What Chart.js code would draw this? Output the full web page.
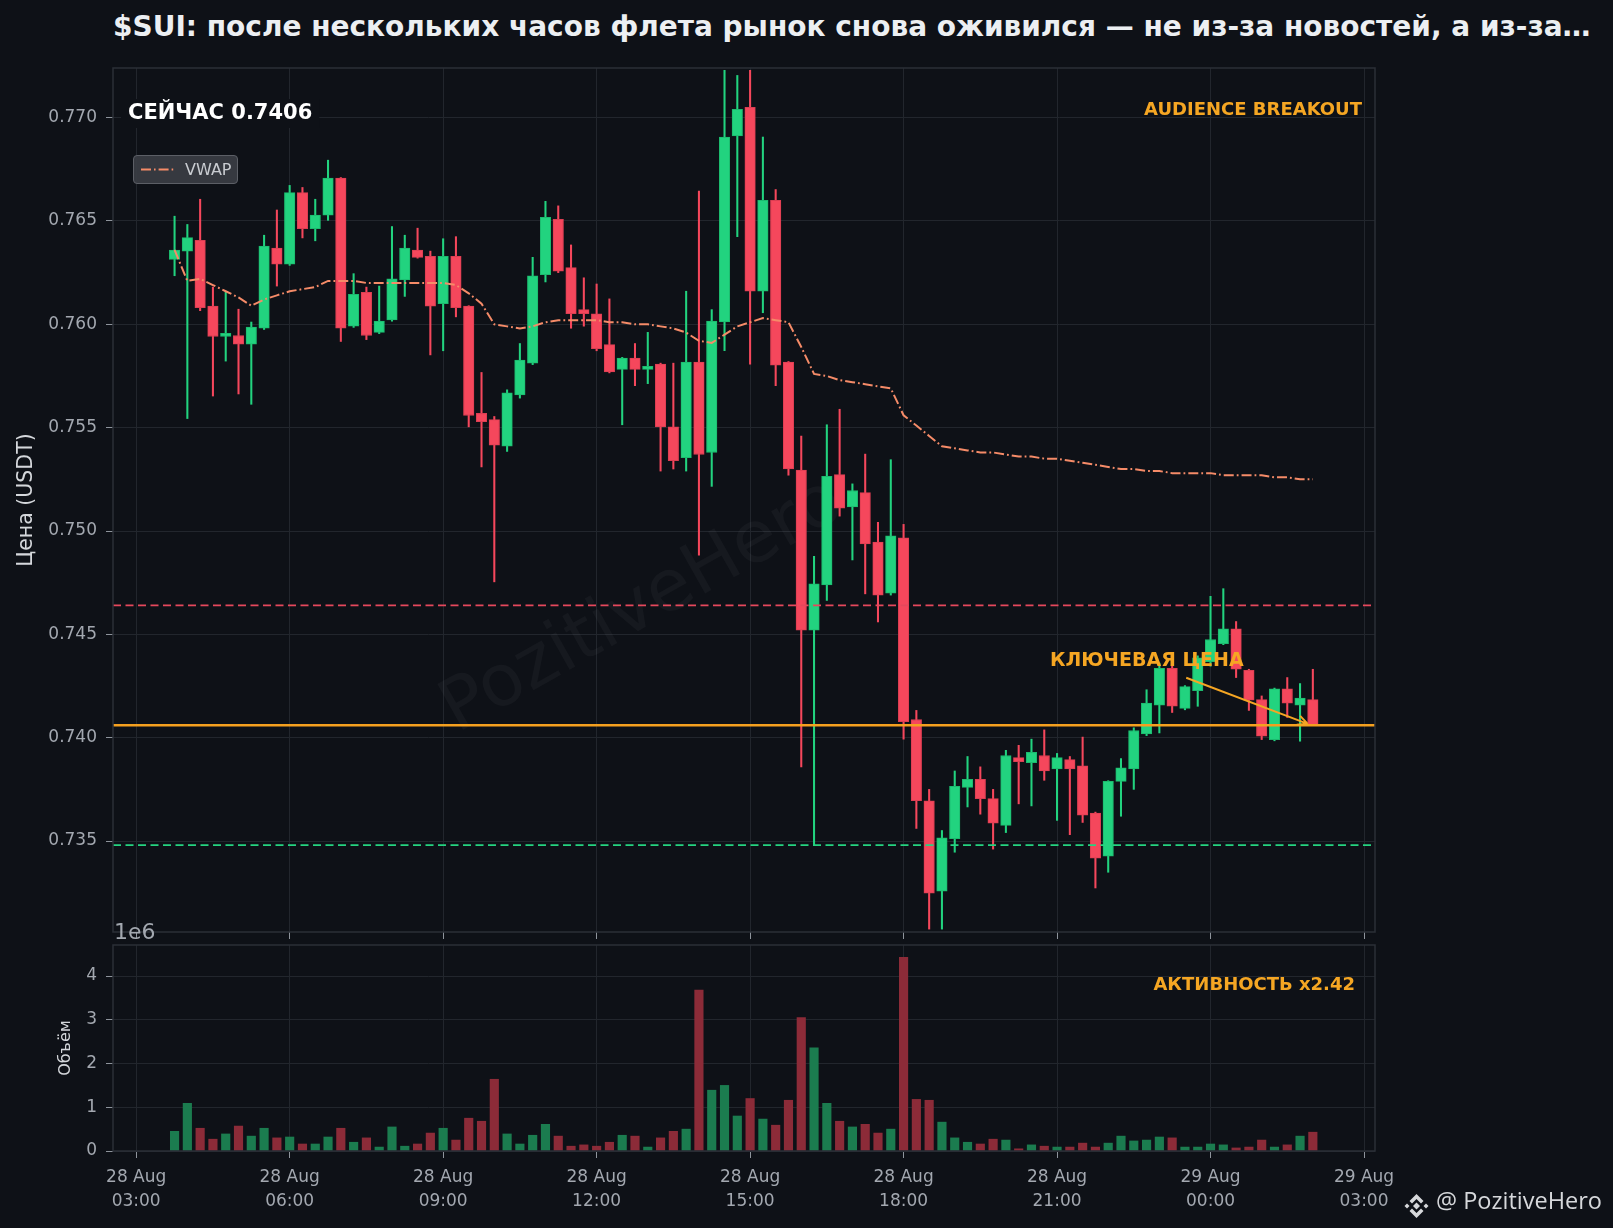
<!DOCTYPE html>
<html>
<head>
<meta charset="utf-8">
<script src="https://cdn.jsdelivr.net/npm/chart.js@4.4.1/dist/chart.umd.min.js"></script>
<style>
  body { margin: 0; background: #0e1117; width: 1613px; height: 1228px; overflow: hidden; position: relative; }
  #title { position: absolute; left: 113px; top: 13px; font: bold 28px 'DejaVu Sans'; line-height: 28px; color: #eceff2; white-space: nowrap; }
  #priceBox { position: absolute; left: 0; top: 0; }
  #volBox { position: absolute; left: 0; top: 900px; }
  #legend { position: absolute; left: 133px; top: 155px; width: 105px; height: 29px; box-sizing: border-box;
            background: rgba(58,61,68,0.92); border: 1px solid #5c5f66; border-radius: 4px; }
  #legend svg { position: absolute; left: 6px; top: 0; }
  #legend span { position: absolute; left: 51px; top: 4px; font: 16px 'DejaVu Sans'; line-height: 20px; color: #c9ccd1; }
  #footer { position: absolute; left: 1403px; top: 1189px; height: 30px; white-space: nowrap; }
  #footer svg { position: absolute; left: 0; top: 4px; }
  #footer span { position: absolute; left: 33px; top: 0; font: 23.5px 'Open Sans'; line-height: 23.5px; color: #d6d8db; }
</style>
</head>
<body>
<div id="title">$SUI: после нескольких часов флета рынок снова оживился — не из-за новостей, а из-за…</div>
<div id="priceBox"><canvas id="price" width="1613" height="962"></canvas></div>
<div id="volBox"><canvas id="vol" width="1613" height="328"></canvas></div>
<div id="legend">
  <svg width="40" height="27"><line x1="1" y1="13.5" x2="34" y2="13.5" stroke="#f58b68" stroke-width="2" stroke-dasharray="10 3 1.6 3"/></svg>
  <span>VWAP</span>
</div>
<div id="footer">
  <svg width="27" height="26" viewBox="0 0 26 26">
    <polygon fill="#d6d8db" points="13,9.5 16.5,13 13,16.5 9.5,13"/>
    <polygon fill="#d6d8db" points="3.5,10.5 6,13 3.5,15.5 1,13"/>
    <polygon fill="#d6d8db" points="22.5,10.5 25,13 22.5,15.5 20,13"/>
    <polygon fill="#d6d8db" points="13,1 20,8 17.5,10.5 13,6 8.5,10.5 6,8"/>
    <polygon fill="#d6d8db" points="13,25 20,18 17.5,15.5 13,20 8.5,15.5 6,18"/>
  </svg>
  <span>@ PozitiveHero</span>
</div>
<script>
// 15-minute candles, first one at 28 Aug 03:45 (x = minutes since 28 Aug 00:00)
const firstSlotMin = 225;
const slotMin = 15;

const opens = [
  0.76314, 0.76354, 0.76406, 0.76088, 0.75941, 0.75946, 0.75904, 0.75981, 0.76369, 0.76291,
  0.76637, 0.76463, 0.76528, 0.76707, 0.75991, 0.76155, 0.75961, 0.76021, 0.76215, 0.76359,
  0.76329, 0.76100, 0.76329, 0.76088, 0.75569, 0.75539, 0.75410, 0.75658, 0.75812, 0.76240,
  0.76508, 0.76274, 0.76071, 0.76051, 0.75902, 0.75782, 0.75837, 0.75782, 0.75807, 0.75504,
  0.75355, 0.75817, 0.75380, 0.76011, 0.76911, 0.77050, 0.76160, 0.76600, 0.75817, 0.75295,
  0.74520, 0.74739, 0.75273, 0.75116, 0.75186, 0.74947, 0.74699, 0.74967, 0.74088, 0.73695,
  0.73258, 0.73511, 0.73760, 0.73799, 0.73705, 0.73576, 0.73904, 0.73879, 0.73914, 0.73849,
  0.73894, 0.73864, 0.73635, 0.73427, 0.73789, 0.73849, 0.74018, 0.74157, 0.74336, 0.74142,
  0.74227, 0.74368, 0.74455, 0.74527, 0.74326, 0.74184, 0.73991, 0.74237, 0.74157, 0.74184
];
const highs = [
  0.76523, 0.76483, 0.76605, 0.76180, 0.76155, 0.76073, 0.76011, 0.76431, 0.76553, 0.76672,
  0.76662, 0.76605, 0.76794, 0.76710, 0.76245, 0.76180, 0.76185, 0.76473, 0.76431, 0.76465,
  0.76354, 0.76414, 0.76424, 0.76090, 0.75767, 0.75554, 0.75683, 0.75907, 0.76324, 0.76595,
  0.76573, 0.76384, 0.76225, 0.76195, 0.76123, 0.75840, 0.75907, 0.75961, 0.75812, 0.75812,
  0.76160, 0.76644, 0.76071, 0.77229, 0.77204, 0.77229, 0.76906, 0.76652, 0.75820, 0.75459,
  0.74878, 0.75514, 0.75589, 0.75228, 0.75372, 0.75042, 0.75345, 0.75032, 0.74132, 0.73750,
  0.73551, 0.73839, 0.73909, 0.73859, 0.73750, 0.73939, 0.73963, 0.73993, 0.74038, 0.73924,
  0.73909, 0.74003, 0.73640, 0.73792, 0.73899, 0.74048, 0.74232, 0.74361, 0.74361, 0.74252,
  0.74396, 0.74684, 0.74721, 0.74562, 0.74331, 0.74202, 0.74240, 0.74291, 0.74262, 0.74331
];
const lows = [
  0.76235, 0.75544, 0.76066, 0.75653, 0.75822, 0.75663, 0.75613, 0.75975, 0.76185, 0.76285,
  0.76418, 0.76404, 0.76503, 0.75917, 0.75985, 0.75926, 0.75955, 0.76015, 0.76135, 0.76320,
  0.75852, 0.75872, 0.76036, 0.75504, 0.75310, 0.74754, 0.75385, 0.75643, 0.75805, 0.76205,
  0.76250, 0.75981, 0.75991, 0.75872, 0.75765, 0.75514, 0.75703, 0.75713, 0.75290, 0.75300,
  0.75290, 0.74883, 0.75216, 0.75872, 0.76424, 0.75807, 0.76056, 0.75703, 0.75270, 0.73859,
  0.73478, 0.74664, 0.75072, 0.74860, 0.74696, 0.74560, 0.74690, 0.73993, 0.73561, 0.73074,
  0.73074, 0.73446, 0.73665, 0.73630, 0.73461, 0.73541, 0.73680, 0.73670, 0.73794, 0.73600,
  0.73531, 0.73590, 0.73273, 0.73349, 0.73620, 0.73750, 0.74010, 0.74023, 0.74122, 0.74135,
  0.74152, 0.74346, 0.74450, 0.74291, 0.74132, 0.73991, 0.73985, 0.74098, 0.73983, 0.74060
];
const closes = [
  0.76359, 0.76419, 0.76081, 0.75941, 0.75956, 0.75904, 0.75986, 0.76379, 0.76291, 0.76637,
  0.76463, 0.76528, 0.76707, 0.75981, 0.76145, 0.75946, 0.76016, 0.76220, 0.76369, 0.76324,
  0.76088, 0.76329, 0.76081, 0.75559, 0.75529, 0.75415, 0.75668, 0.75827, 0.76235, 0.76518,
  0.76257, 0.76051, 0.76051, 0.75882, 0.75770, 0.75837, 0.75782, 0.75797, 0.75504, 0.75340,
  0.75817, 0.75370, 0.76016, 0.76906, 0.77040, 0.76160, 0.76600, 0.75802, 0.75300, 0.74520,
  0.74744, 0.75265, 0.75111, 0.75196, 0.74937, 0.74689, 0.74977, 0.74078, 0.73695, 0.73248,
  0.73516, 0.73765, 0.73799, 0.73705, 0.73586, 0.73914, 0.73884, 0.73929, 0.73839, 0.73904,
  0.73849, 0.73625, 0.73417, 0.73789, 0.73854, 0.74035, 0.74167, 0.74336, 0.74152, 0.74247,
  0.74386, 0.74475, 0.74527, 0.74331, 0.74182, 0.74008, 0.74237, 0.74167, 0.74192, 0.74063
];
const volumes = [
  450000, 1090000, 520000, 270000, 390000, 570000, 340000, 520000, 300000, 320000,
  160000, 160000, 320000, 520000, 200000, 300000, 90000, 550000, 110000, 160000,
  410000, 520000, 250000, 750000, 680000, 1640000, 390000, 160000, 360000, 610000,
  340000, 110000, 140000, 110000, 200000, 360000, 340000, 90000, 300000, 450000,
  500000, 3680000, 1390000, 1500000, 800000, 1200000, 730000, 590000, 1160000, 3050000,
  2360000, 1090000, 680000, 550000, 610000, 410000, 500000, 4430000, 1180000, 1160000,
  660000, 300000, 200000, 160000, 270000, 250000, 50000, 140000, 110000, 90000,
  90000, 180000, 90000, 180000, 340000, 230000, 250000, 320000, 300000, 90000,
  90000, 160000, 140000, 70000, 90000, 250000, 90000, 140000, 340000, 430000
];
const vwap = [
  0.7636, 0.7621, 0.7622, 0.7619, 0.7616, 0.7613, 0.7609, 0.7612, 0.7614, 0.7616,
  0.7617, 0.7618, 0.7621, 0.7621, 0.7621, 0.7620, 0.7620, 0.7620, 0.7620, 0.7620,
  0.7620, 0.7620, 0.7619, 0.7615, 0.7610, 0.7600, 0.7599, 0.7598, 0.7599, 0.7601,
  0.7602, 0.7602, 0.7602, 0.7602, 0.7601, 0.7601, 0.7600, 0.7600, 0.7599, 0.7598,
  0.7596, 0.7592, 0.7591, 0.7595, 0.7599, 0.7601, 0.7603, 0.7602, 0.7601, 0.7589,
  0.7576, 0.7575, 0.7573, 0.7572, 0.7571, 0.7570, 0.7569, 0.7556, 0.7551, 0.7546,
  0.7541, 0.7540, 0.7539, 0.7538, 0.7538, 0.7537, 0.7536, 0.7536, 0.7535, 0.7535,
  0.7534, 0.7533, 0.7532, 0.7531, 0.7530, 0.7530, 0.7529, 0.7529, 0.7528, 0.7528,
  0.7528, 0.7528, 0.7527, 0.7527, 0.7527, 0.7527, 0.7526, 0.7526, 0.7525, 0.7525
];

const resistance = 0.7464;
const support = 0.7348;
const keyPrice = 0.7406;

const priceTicks = [0.735, 0.740, 0.745, 0.750, 0.755, 0.760, 0.765, 0.770];
const volTicks = [0, 1e6, 2e6, 3e6, 4e6];
const xTickMinutes = [180, 360, 540, 720, 900, 1080, 1260, 1440, 1620];
const xTickLabels = [
  ['28 Aug', '03:00'], ['28 Aug', '06:00'], ['28 Aug', '09:00'], ['28 Aug', '12:00'],
  ['28 Aug', '15:00'], ['28 Aug', '18:00'], ['28 Aug', '21:00'], ['29 Aug', '00:00'], ['29 Aug', '03:00']
];

const xMin = 152.8, xMax = 1632.9;
const slotX = i => firstSlotMin + i * slotMin;

const upColor = '#22d37f', downColor = '#f5475c';
const upEdge = '#1cba6e', downEdge = '#dc3e52';
const upVol = '#1b7c4f', downVol = '#8c2b38';
const orange = '#f5a623';
const gridColor = '#22262d';
const tickColor = '#8e949c';
const labelColor = '#a3a8b0';

const isUp = closes.map((c, i) => c >= opens[i]);

Chart.defaults.font.family = "'DejaVu Sans', sans-serif";
Chart.defaults.color = labelColor;

function frame(chart) {
  const {ctx, chartArea: a} = chart;
  ctx.save();
  ctx.strokeStyle = '#2b2f37';
  ctx.lineWidth = 1.5;
  ctx.strokeRect(a.left, a.top, a.right - a.left, a.bottom - a.top);
  ctx.restore();
}

const priceDecor = {
  id: 'priceDecor',
  beforeDatasetsDraw(chart) {
    const ctx = chart.ctx;
    ctx.save();
    ctx.translate(643, 607);
    ctx.rotate(-29.4 * Math.PI / 180);
    ctx.font = "72px 'DejaVu Sans'";
    ctx.fillStyle = 'rgba(255,255,255,0.035)';
    ctx.textAlign = 'center';
    ctx.textBaseline = 'middle';
    ctx.fillText('PozitiveHero', 0, 0);
    ctx.restore();
  },
  afterDatasetsDraw(chart) {
    const {ctx, scales: {x, y}} = chart;
    ctx.save();
    // arrow towards the last candle on the key price
    const x0 = x.getPixelForValue(slotX(79.1)), y0 = y.getPixelForValue(0.7429);
    const x1 = x.getPixelForValue(slotX(88.6)), y1 = y.getPixelForValue(0.74067);
    ctx.strokeStyle = orange;
    ctx.lineWidth = 2;
    ctx.beginPath();
    ctx.moveTo(x0, y0);
    ctx.lineTo(x1, y1);
    const ang = Math.atan2(y1 - y0, x1 - x0);
    for (const s of [-1, 1]) {
      ctx.moveTo(x1, y1);
      ctx.lineTo(x1 - 11 * Math.cos(ang + s * 0.45), y1 - 11 * Math.sin(ang + s * 0.45));
    }
    ctx.stroke();

    ctx.textBaseline = 'middle';
    ctx.font = "bold 19px 'DejaVu Sans'";
    ctx.fillStyle = orange;
    ctx.textAlign = 'left';
    ctx.fillText('КЛЮЧЕВАЯ ЦЕНА', 1050, 661);

    ctx.font = "bold 18px 'DejaVu Sans'";
    ctx.textAlign = 'right';
    ctx.fillText('AUDIENCE BREAKOUT', 1362, 110);

    ctx.font = "bold 21px 'DejaVu Sans'";
    ctx.textAlign = 'left';
    const t = 'СЕЙЧАС 0.7406';
    const w = ctx.measureText(t).width;
    ctx.fillStyle = '#0e1117';
    ctx.fillRect(121, 99, w + 14, 29);
    ctx.fillStyle = '#ffffff';
    ctx.fillText(t, 128, 114);
    ctx.restore();
  },
  afterDraw: frame
};

const volDecor = {
  id: 'volDecor',
  afterDraw(chart) {
    const ctx = chart.ctx;
    frame(chart);
    ctx.save();
    ctx.textBaseline = 'middle';
    ctx.font = "22px 'DejaVu Sans'";
    ctx.fillStyle = labelColor;
    ctx.textAlign = 'left';
    ctx.fillText('1e6', 114, 33);
    ctx.font = "bold 18px 'DejaVu Sans'";
    ctx.fillStyle = orange;
    ctx.textAlign = 'right';
    ctx.fillText('АКТИВНОСТЬ x2.42', 1355, 85);
    ctx.restore();
  }
};

const levelLine = (v, color, width, dash) => ({
  type: 'line',
  data: [{x: xMin, y: v}, {x: xMax, y: v}],
  borderColor: color, borderWidth: width, borderDash: dash,
  pointRadius: 0, order: 0
});

new Chart(document.getElementById('price'), {
  type: 'bar',
  data: {
    datasets: [
      {
        type: 'line', label: 'VWAP',
        data: vwap.map((v, i) => ({x: slotX(i), y: v})),
        borderColor: '#f58b68', borderWidth: 2, borderDash: [10, 3, 1.8, 3],
        pointRadius: 0, tension: 0, order: 0
      },
      levelLine(keyPrice, '#f5a01f', 2.6, []),
      levelLine(resistance, '#e5485c', 1.8, [8, 4.5]),
      levelLine(support, '#25d380', 1.8, [8, 4.5]),
      {
        label: 'body',
        data: opens.map((o, i) => ({x: slotX(i), y: [o, closes[i]]})),
        backgroundColor: isUp.map(u => u ? upColor : downColor),
        borderColor: isUp.map(u => u ? upEdge : downEdge),
        borderWidth: 1, borderSkipped: false,
        barThickness: 10.5, minBarLength: 1.5, grouped: false, order: 1
      },
      {
        label: 'wick',
        data: lows.map((l, i) => ({x: slotX(i), y: [l, highs[i]]})),
        backgroundColor: isUp.map(u => u ? upColor : downColor),
        barThickness: 1.4, grouped: false, order: 2
      }
    ]
  },
  options: {
    responsive: false, animation: false,
    layout: {padding: {left: 0, top: 68, right: 238, bottom: 0}},
    plugins: {legend: {display: false}, tooltip: {enabled: false}},
    scales: {
      x: {
        type: 'linear', min: xMin, max: xMax, offset: false,
        grid: {color: gridColor, tickLength: 7, tickColor: tickColor, offset: false},
        border: {display: false},
        ticks: {display: false},
        afterBuildTicks: s => { s.ticks = xTickMinutes.map(v => ({value: v})); },
        afterFit: s => { s.height = 30; }
      },
      y: {
        type: 'linear', min: 0.7306, max: 0.7724, position: 'left',
        grid: {color: gridColor, tickLength: 7, tickColor: tickColor},
        border: {display: false},
        ticks: {color: labelColor, font: {size: 17}, padding: 9, callback: v => v.toFixed(3)},
        afterBuildTicks: s => { s.ticks = priceTicks.map(v => ({value: v})); },
        title: {display: true, text: 'Цена (USDT)', color: '#d4d7db', font: {size: 20.5}, padding: {top: 14, bottom: 0}},
        afterFit: s => { s.width = 113; }
      }
    }
  },
  plugins: [priceDecor]
});

new Chart(document.getElementById('vol'), {
  type: 'bar',
  data: {
    datasets: [{
      label: 'Объём',
      data: volumes.map((v, i) => ({x: slotX(i), y: v})),
      backgroundColor: isUp.map(u => u ? upVol : downVol),
      barThickness: 8.5
    }]
  },
  options: {
    responsive: false, animation: false,
    layout: {padding: {left: 0, top: 45, right: 238, bottom: 0}},
    plugins: {legend: {display: false}, tooltip: {enabled: false}},
    scales: {
      x: {
        type: 'linear', min: xMin, max: xMax, offset: false,
        grid: {color: gridColor, tickLength: 7, tickColor: tickColor, offset: false},
        border: {display: false},
        ticks: {color: labelColor, font: {size: 17, lineHeight: 1.39}, padding: 8,
                maxRotation: 0, minRotation: 0, autoSkip: false,
                callback: (v, i) => xTickLabels[i]},
        afterBuildTicks: s => { s.ticks = xTickMinutes.map(v => ({value: v})); },
        afterFit: s => { s.height = 77; }
      },
      y: {
        type: 'linear', min: 0, max: 4.71e6, position: 'left',
        grid: {color: gridColor, tickLength: 7, tickColor: tickColor},
        border: {display: false},
        ticks: {color: labelColor, font: {size: 17}, padding: 9, callback: v => String(Math.round(v / 1e6))},
        afterBuildTicks: s => { s.ticks = volTicks.map(v => ({value: v})); },
        title: {display: true, text: 'Объём', color: '#d4d7db', font: {size: 16}, padding: {top: 56, bottom: 0}},
        afterFit: s => { s.width = 113; }
      }
    }
  },
  plugins: [volDecor]
});
</script>
</body>
</html>
